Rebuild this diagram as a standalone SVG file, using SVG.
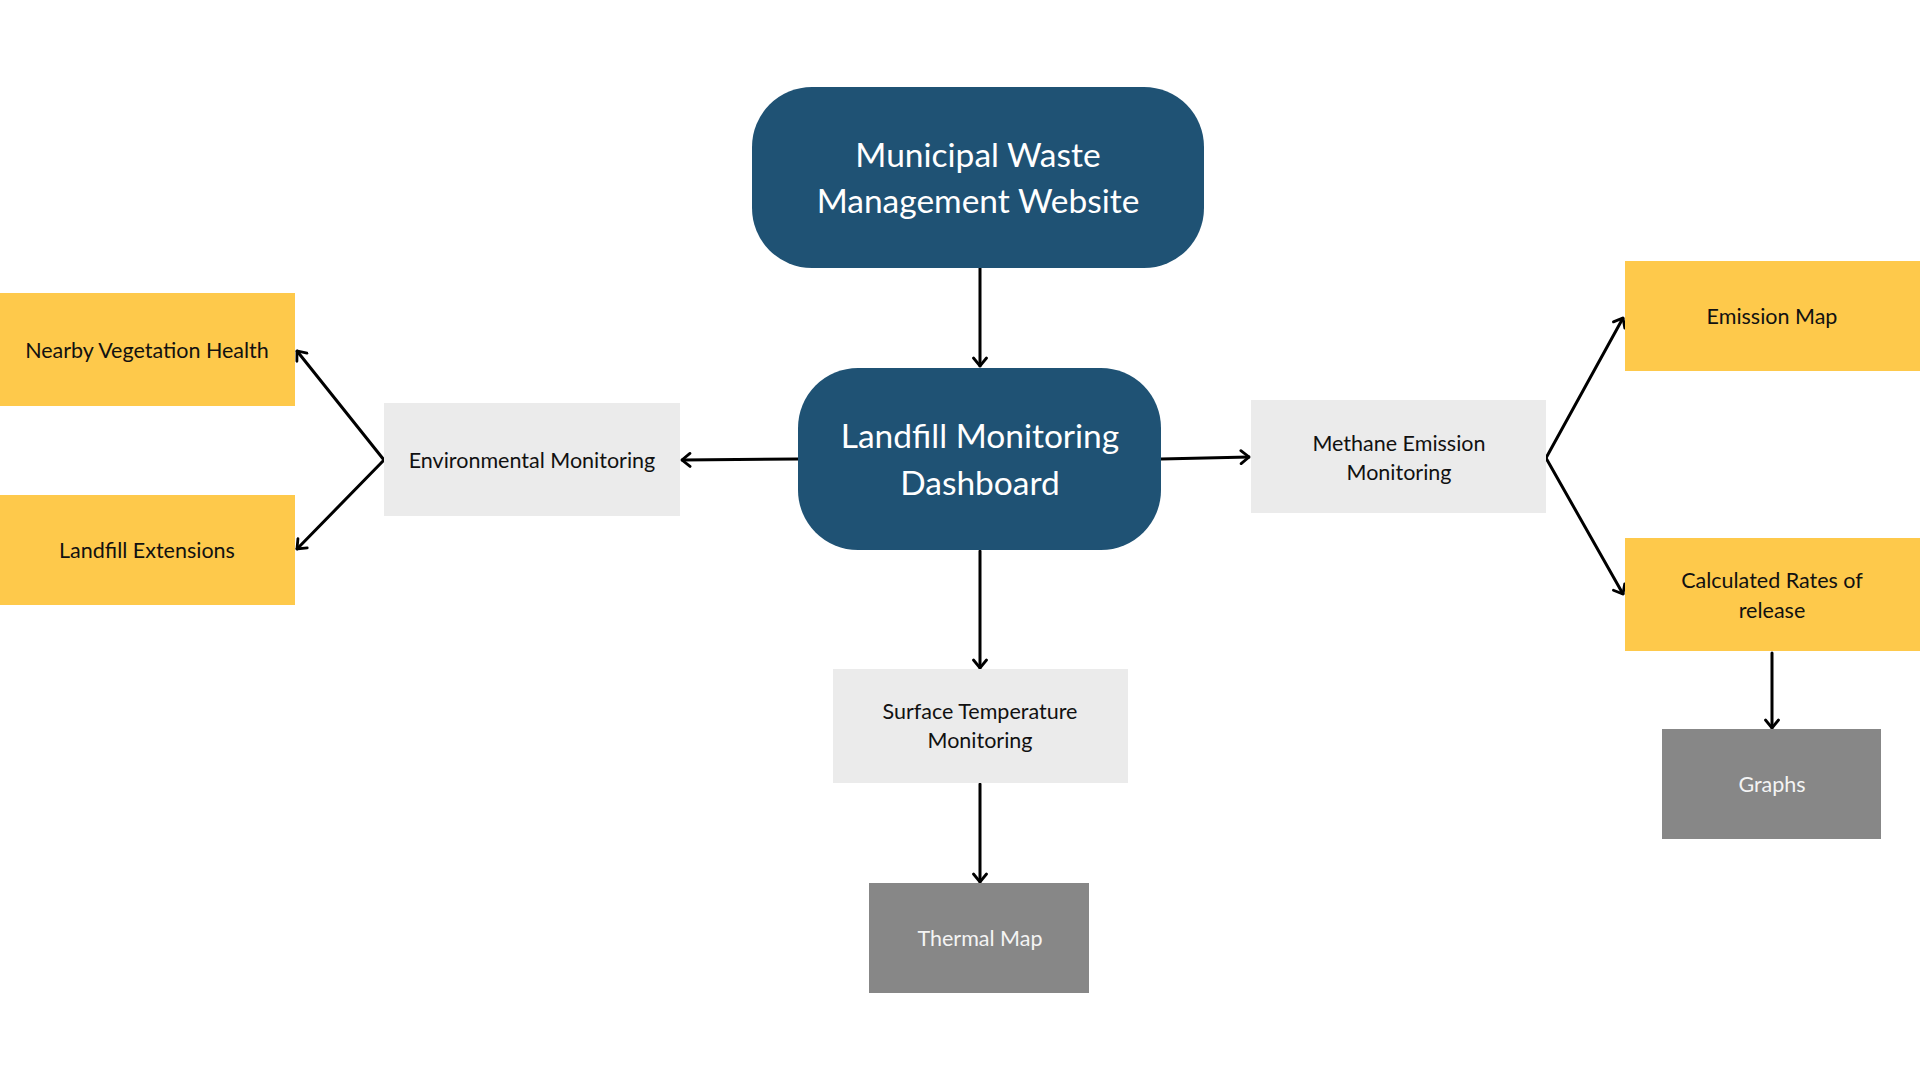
<svg xmlns="http://www.w3.org/2000/svg" width="1920" height="1080" viewBox="0 0 1920 1080">
<defs>
<style>
.main{fill:#1F5274}
.yel{fill:#FEC94B}
.lg{fill:#EBEBEB}
.dg{fill:#878787}
.tw{font-family:Lato,"Liberation Sans",sans-serif;font-size:33.5px;fill:#FFFFFF;text-anchor:middle}
.tb{font-family:Lato,"Liberation Sans",sans-serif;font-size:21.5px;fill:#111111;text-anchor:middle}
.tg{font-family:Lato,"Liberation Sans",sans-serif;font-size:21.5px;fill:#F4F4F4;text-anchor:middle}
.c{fill:none;stroke:#000;stroke-width:3;stroke-linecap:round;stroke-linejoin:miter}
</style>
<marker id="arr" viewBox="0 0 11 16" refX="10" refY="8" markerWidth="11" markerHeight="16" markerUnits="userSpaceOnUse" orient="auto">
<path d="M2,1.5 L10,8 L2,14.5" fill="none" stroke="#000" stroke-width="2.8" stroke-linecap="round"/>
</marker>
</defs>
<rect width="1920" height="1080" fill="#FFFFFF"/>

<g id="connectors">
<path class="c" d="M980,268 L980,366" marker-end="url(#arr)"/>
<path class="c" d="M980,551 L980,668" marker-end="url(#arr)"/>
<path class="c" d="M980,784 L980,882" marker-end="url(#arr)"/>
<path class="c" d="M798,459 L682,460" marker-end="url(#arr)"/>
<path class="c" d="M1161,459 L1249,457" marker-end="url(#arr)"/>
<path class="c" d="M384,460 L297,351" marker-end="url(#arr)"/>
<path class="c" d="M384,460 L297,549" marker-end="url(#arr)"/>
<path class="c" d="M1546,458 L1623,318" marker-end="url(#arr)"/>
<path class="c" d="M1546,458 L1623,594" marker-end="url(#arr)"/>
<path class="c" d="M1772,653 L1772,728" marker-end="url(#arr)"/>
</g>

<g id="municipal-website">
<rect class="main" x="752" y="87" width="452" height="181" rx="60" ry="60"/>
<text class="tw" x="978" y="167">Municipal Waste</text>
<text class="tw" x="978" y="213">Management Website</text>
</g>

<g id="landfill-dashboard">
<rect class="main" x="798" y="368" width="363" height="182" rx="60" ry="60"/>
<text class="tw" x="980" y="448">Landfill Monitoring</text>
<text class="tw" x="980" y="495">Dashboard</text>
</g>

<g id="environmental-monitoring">
<rect class="lg" x="384" y="403" width="296" height="113"/>
<text class="tb" x="532" y="468">Environmental Monitoring</text>
</g>

<g id="nearby-vegetation">
<rect class="yel" x="0" y="293" width="295" height="113"/>
<text class="tb" x="147" y="358">Nearby Vegetation Health</text>
</g>

<g id="landfill-extensions">
<rect class="yel" x="0" y="495" width="295" height="110"/>
<text class="tb" x="147" y="558">Landfill Extensions</text>
</g>

<g id="methane-monitoring">
<rect class="lg" x="1251" y="400" width="295" height="113"/>
<text class="tb" x="1399" y="451">Methane Emission</text>
<text class="tb" x="1399" y="480">Monitoring</text>
</g>

<g id="emission-map">
<rect class="yel" x="1625" y="261" width="295" height="110"/>
<text class="tb" x="1772" y="324">Emission Map</text>
</g>

<g id="calculated-rates">
<rect class="yel" x="1625" y="538" width="295" height="113"/>
<text class="tb" x="1772" y="588">Calculated Rates of</text>
<text class="tb" x="1772" y="618">release</text>
</g>

<g id="graphs">
<rect class="dg" x="1662" y="729" width="219" height="110"/>
<text class="tg" x="1772" y="792">Graphs</text>
</g>

<g id="surface-temperature">
<rect class="lg" x="833" y="669" width="295" height="114"/>
<text class="tb" x="980" y="719">Surface Temperature</text>
<text class="tb" x="980" y="748">Monitoring</text>
</g>

<g id="thermal-map">
<rect class="dg" x="869" y="883" width="220" height="110"/>
<text class="tg" x="980" y="946">Thermal Map</text>
</g>
</svg>
